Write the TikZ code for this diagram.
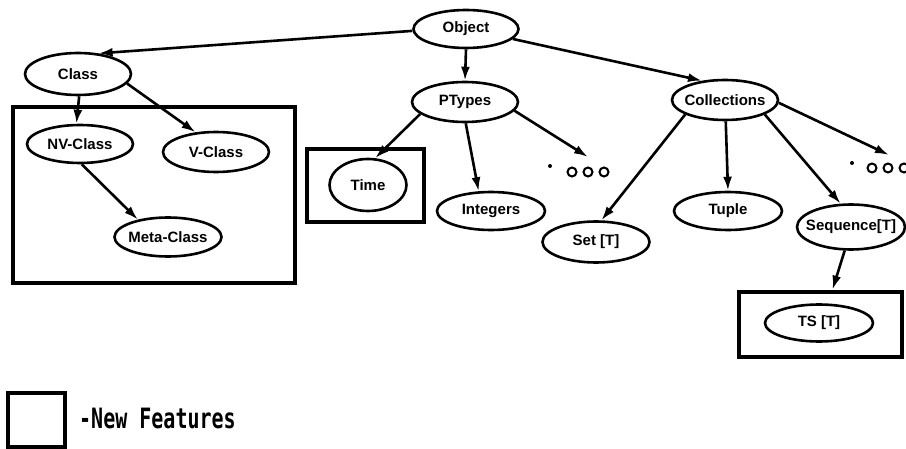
\documentclass[tikz,border=0pt]{standalone}
\usepackage{fontspec}
\usepackage{graphicx}
\setmainfont{Liberation Sans}
\newfontfamily\legendfont{DejaVu Sans Mono}
\usetikzlibrary{shapes.geometric,arrows.meta}
\newcommand{\ellbl}[1]{\makebox[0pt][c]{#1}}
\begin{document}
\begin{tikzpicture}[x=1pt,y=-1pt,
  ell/.style={ellipse,draw,line width=2.6pt,inner sep=0pt,
    font=\bfseries\fontsize{15}{15}\selectfont},
  arr/.style={-{Latex[length=14pt,width=9pt]},line width=2.6pt},
  newbox/.style={draw,line width=4.8pt,inner sep=0pt},
  bigbox/.style={draw,line width=3.4pt,inner sep=0pt},
  dotc/.style={line width=2pt}]
\useasboundingbox (0,0) rectangle (906,449);
% boxes
\node[bigbox,minimum width=282pt,minimum height=176pt] (bigb) at (154,195) {};
\node[newbox,minimum width=117pt,minimum height=73pt] (timeb) at (365.5,185.5) {};
\node[newbox,minimum width=163pt,minimum height=65pt] (tsb) at (820.5,324.5) {};
\node[newbox,minimum width=57pt,minimum height=54pt] (legb) at (36.5,420) {};
% nodes
\node[ell,minimum width=105pt,minimum height=38pt] (obj) at (466,29) {\ellbl{Object}};
\node[ell,minimum width=106pt,minimum height=42pt] (cls) at (78,74) {\ellbl{Class}};
\node[ell,minimum width=106pt,minimum height=38pt] (nv) at (80,144) {\ellbl{NV-Class}};
\node[ell,minimum width=106pt,minimum height=40pt] (vc) at (216,152) {\ellbl{V-Class}};
\node[ell,minimum width=107pt,minimum height=39pt] (meta) at (168,237) {\ellbl{Meta-Class}};
\node[ell,minimum width=77pt,minimum height=52pt] (time) at (368,185) {\ellbl{Time}};
\node[ell,minimum width=106pt,minimum height=40pt] (pty) at (465,102) {\ellbl{PTypes}};
\node[ell,minimum width=108pt,minimum height=38pt] (int) at (491,211) {\ellbl{Integers}};
\node[ell,minimum width=106pt,minimum height=40pt] (coll) at (725,100) {\ellbl{Collections}};
\node[ell,minimum width=107pt,minimum height=41pt] (set) at (596,242) {\ellbl{Set [T]}};
\node[ell,minimum width=108pt,minimum height=38pt] (tup) at (728,211) {\ellbl{Tuple}};
\node[ell,minimum width=108pt,minimum height=45pt] (seq) at (851,227) {\ellbl{Sequence[T]}};
\node[ell,minimum width=108pt,minimum height=37pt] (ts) at (819,323) {\ellbl{TS [T]}};
% dots
\coordinate (d1) at (588,157);
\coordinate (d2) at (889,155);
\fill (550,166) circle (2pt);
\draw[dotc] (572,172) circle (4.5pt) (588,172) circle (4.5pt) (604,172) circle (4.5pt);
\fill (852,163) circle (2pt);
\draw[dotc] (872,168) circle (4.5pt) (888,168) circle (4.5pt) (904,168) circle (4.5pt);
% connectors
\draw[arr] (obj.182) -- (cls.45);
\draw[arr] (obj.south) -- (pty.north);
\draw[arr] (obj.-12) -- (coll.140);
\draw[arr] (cls.-87) -- (nv.100);
\draw[arr] (cls.-11) -- (vc.136);
\draw[arr] (nv.-85) -- (meta.150);
\draw[arr] (pty.195) -- (time.75);
\draw[arr] (pty.-88) -- (int.122);
\draw[arr] (pty.-10) -- (d1);
\draw[arr] (coll.200) -- (set.76);
\draw[arr] (coll.-88) -- (tup.north);
\draw[arr] (coll.-20) -- (seq.114);
\draw[arr] (coll.-3) -- (d2);
\draw[arr] (seq.-105) -- ([xshift=12pt]tsb.north);
% legend
\node[anchor=west,inner sep=0pt] (legt) at (79,418)
  {\scalebox{1}[1.4]{\legendfont\bfseries\fontsize{20}{20}\selectfont -New Features}};
\end{tikzpicture}
\end{document}
